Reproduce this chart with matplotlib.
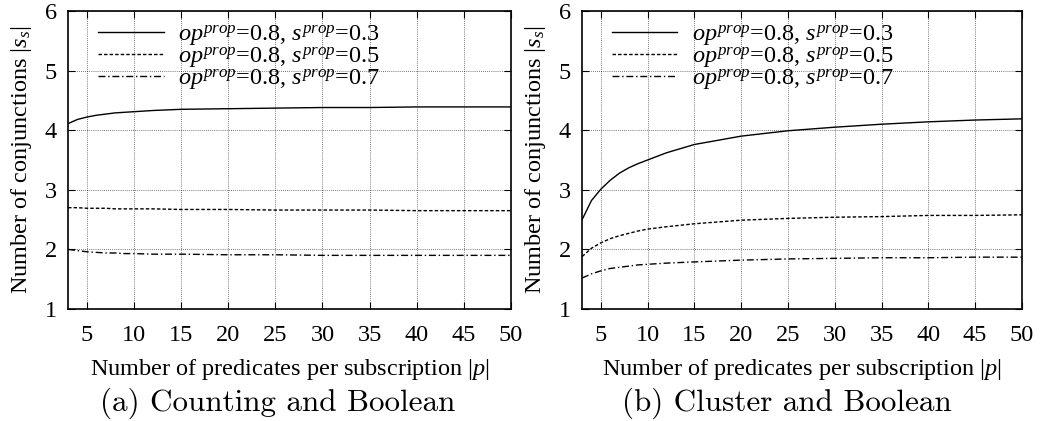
import matplotlib
matplotlib.use("Agg")
import matplotlib.pyplot as plt

plt.rcParams["font.family"] = ["Liberation Serif", "DejaVu Serif"]
plt.rcParams["mathtext.fontset"] = "custom"
plt.rcParams["mathtext.rm"] = "Liberation Serif"
plt.rcParams["mathtext.it"] = "Liberation Serif:italic"

# -----------------------------
# data
# -----------------------------
preds = [3, 4, 5, 6, 7, 8, 9, 10, 12, 15, 20, 25, 30, 35, 40, 45, 50]

counting_s03 = [4.11, 4.18, 4.22, 4.25, 4.27, 4.29, 4.30, 4.31, 4.33, 4.35, 4.36, 4.37, 4.38, 4.38, 4.39, 4.39, 4.39]
counting_s05 = [2.70, 2.70, 2.69, 2.69, 2.69, 2.68, 2.68, 2.68, 2.68, 2.67, 2.67, 2.66, 2.66, 2.66, 2.65, 2.65, 2.65]
counting_s07 = [2.00, 1.98, 1.96, 1.95, 1.94, 1.94, 1.93, 1.93, 1.92, 1.92, 1.91, 1.91, 1.90, 1.90, 1.90, 1.90, 1.90]

cluster_s03 = [2.50, 2.82, 3.01, 3.16, 3.28, 3.37, 3.44, 3.50, 3.62, 3.76, 3.90, 3.99, 4.05, 4.10, 4.14, 4.17, 4.19]
cluster_s05 = [1.88, 2.02, 2.11, 2.18, 2.23, 2.27, 2.31, 2.34, 2.38, 2.43, 2.49, 2.52, 2.54, 2.55, 2.57, 2.57, 2.58]
cluster_s07 = [1.52, 1.59, 1.64, 1.68, 1.70, 1.72, 1.74, 1.75, 1.77, 1.79, 1.82, 1.84, 1.85, 1.86, 1.86, 1.87, 1.87]

labels = [
    r"$op^{prop}$=0.8, $s^{prop}$=0.3",
    r"$op^{prop}$=0.8, $s^{prop}$=0.5",
    r"$op^{prop}$=0.8, $s^{prop}$=0.7",
]
captions = ["(a) Counting and Boolean", "(b) Cluster and Boolean"]
caption_x = [0.265, 0.752]
x_ticks = [5, 10, 15, 20, 25, 30, 35, 40, 45, 50]
y_ticks = [1, 2, 3, 4, 5, 6]

styles = [
    dict(linestyle="-"),
    dict(linestyle=(0, (2.5, 1.5))),
    dict(linestyle=(0, (5, 2, 1, 2))),
]

fig = plt.figure(figsize=(10.47, 4.21), dpi=100)
ax_a = fig.add_axes([0.065, 0.266, 0.423, 0.708])
ax_b = fig.add_axes([0.556, 0.266, 0.420, 0.708])

panels = [
    (ax_a, [counting_s03, counting_s05, counting_s07]),
    (ax_b, [cluster_s03, cluster_s05, cluster_s07]),
]

for i, (ax, series) in enumerate(panels):
    for vals, lab, st in zip(series, labels, styles):
        ax.plot(preds, vals, color="black", linewidth=1.0, label=lab, **st)

    ax.set_xlim(3, 50)
    ax.set_ylim(1, 6)
    ax.set_xticks(x_ticks)
    ax.set_yticks(y_ticks)
    ax.tick_params(direction="in", top=True, right=True, length=5, labelsize=17.5)
    ax.tick_params(axis="x", pad=11.5)
    ax.tick_params(axis="y", pad=8)
    ax.grid(True, color="black", linestyle=(0, (1, 1.5)), linewidth=0.6, alpha=0.7)
    for sp in ax.spines.values():
        sp.set_linewidth(1.2)

    ax.set_xlabel(r"Number of predicates per subscription |$p$|", fontsize=17.5, labelpad=8)
    ax.set_ylabel(r"Number of conjunctions |$s_s$|", fontsize=17.5, labelpad=8)

    ax.legend(loc="upper left", frameon=False, fontsize=17.5, handlelength=2.7,
              handletextpad=0.6, labelspacing=-0.12, borderaxespad=0.1,
              bbox_to_anchor=(0.04, 1.0))

    fig.text(caption_x[i], 0.043, captions[i], ha="center", va="center",
             fontsize=22.4, family="cmr10")

fig.savefig("out.png", dpi=100)
